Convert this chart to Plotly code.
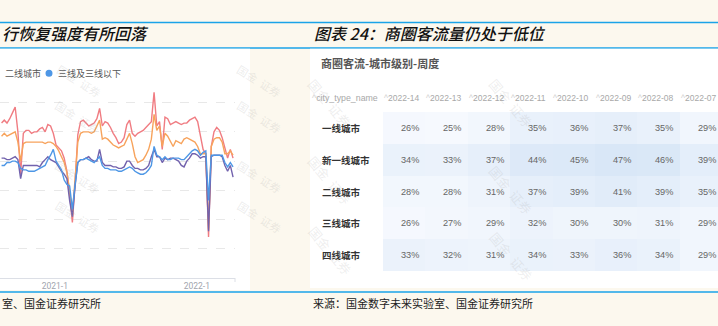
import plotly.graph_objects as go
import pandas as pd

W, H = 718, 326
def PX(x): return x / W
def PY(y): return 1 - y / H

# ---------------- left chart data (weekly index) ----------------
weeks = pd.date_range('2020-08-17', periods=86, freq='7D')
series_names = ['一线城市', '新一线城市', '二线城市', '三线及三线以下']
red = [106,108,106,109,113,117,100,71,99,101,
       101,99,100,100,102,103,100,105,104,99,
       91,89,87,82,73,58,38,65,98,107,
       108,106,104,105,106,109,116,104,107,106,
       103,99,96,92,93,96,105,108,99,97,
       99,100,101,103,105,107,127,104,107,88,
       110,109,105,106,107,106,105,106,106,108,
       109,110,107,97,88,85,28,90,100,103,
       101,96,88,82,88,82]
orange = [97,99,97,98,99,100,93,80,92,93,
          93,93,93,93,93,93,92,93,93,92,
          90,87,83,79,72,60,43,65,93,99,
          100,100,100,99,100,104,108,95,96,95,
          93,91,90,89,90,91,95,99,92,83,
          79,80,81,84,88,95,112,101,104,90,
          99,97,93,90,94,93,92,95,96,95,
          94,93,90,85,85,85,33,90,95,96,
          96,93,85,85,87,84]
purple = [82,82,81,81,82,83,81,68,77,77,
          77,77,77,77,76,79,81,83,81,80,
          79,76,73,71,68,53,42,63,79,81,
          81,82,83,81,80,80,88,79,77,77,
          77,76,76,75,75,76,80,80,77,75,
          75,74,74,75,77,83,88,83,83,79,
          82,81,82,82,81,80,77,76,80,82,
          85,85,84,82,83,83,32,83,84,84,
          84,83,77,73,77,69]
blue = [77,77,79,79,80,80,79,75,74,74,
        73,73,73,74,75,76,77,81,84,88,
        80,77,74,67,64,63,47,64,79,81,
        81,82,81,80,79,81,83,77,75,75,
        74,74,74,73,73,74,75,76,75,73,
        72,71,71,72,74,77,90,84,83,81,
        83,81,81,82,82,82,81,81,83,85,
        87,88,87,84,86,87,53,84,84,84,
        84,84,79,76,79,76]
line_colors = ['#f07c82', '#f7a35c', '#7262ad', '#4e97e6']
x_tickvals = ['2021-01-01', '2022-01-01']
x_ticktext = ['2021-1', '2022-1']

# ---------------- right table data ----------------
week_cols = ['2022-14', '2022-13', '2022-12', '2022-11', '2022-10', '2022-09', '2022-08', '2022-07']
city_rows = ['一线城市', '新一线城市', '二线城市', '三线城市', '四线城市']
table = [
    [26, 25, 28, 35, 36, 37, 35, 29],
    [34, 33, 37, 44, 45, 47, 46, 39],
    [28, 28, 31, 37, 39, 41, 39, 35],
    [26, 27, 29, 32, 30, 30, 31, 29],
    [33, 32, 31, 34, 33, 36, 34, 29],
]

CJK = 'Noto Sans CJK SC, Noto Sans, sans-serif'
NARROW = 'Liberation Sans, Arial, sans-serif'

fig = go.Figure()
for name, ys, col in zip(series_names, [red, orange, purple, blue], line_colors):
    fig.add_trace(go.Scatter(x=weeks, y=ys, mode='lines', name=name,
                             line=dict(color=col, width=1.4), showlegend=False,
                             xaxis='x', yaxis='y'))

fig.add_trace(go.Heatmap(z=table, x=list(range(len(week_cols))), y=list(range(len(city_rows))),
                         xaxis='x2', yaxis='y2', zmin=25, zmax=47, showscale=False,
                         colorscale=[[0, '#f6f9fe'], [1, '#d9e7f7']], hoverinfo='skip'))

shapes = []
blue_line = '#1aa3e8'
for yy in [22.5, 48, 292]:
    shapes.append(dict(type='line', xref='paper', yref='paper', x0=0, x1=1, y0=PY(yy), y1=PY(yy),
                       line=dict(color=blue_line, width=1.6), layer='below'))
shapes.append(dict(type='rect', xref='paper', yref='paper', x0=0, x1=PX(250), y0=PY(290), y1=PY(48.8),
                   fillcolor='white', line=dict(width=0), layer='below'))
shapes.append(dict(type='rect', xref='paper', yref='paper', x0=PX(310), x1=1, y0=PY(288), y1=PY(48.8),
                   fillcolor='white', line=dict(width=0), layer='below'))
# legend dot
shapes.append(dict(type='circle', xref='paper', yref='paper', x0=PX(45.5), x1=PX(52.5), y0=PY(76.8), y1=PY(69.8),
                   fillcolor='#4e97e6', line=dict(width=0)))
# axis end tick
shapes.append(dict(type='line', xref='paper', yref='paper', x0=PX(235), x1=PX(235), y0=PY(278), y1=PY(282),
                   line=dict(color='#dcdfe6', width=1)))

ann = []
# titles
ann.append(dict(text='行恢复强度有所回落', x=0, y=PY(33), xref='paper', yref='paper', xanchor='left',
                yanchor='middle', showarrow=False,
                font=dict(family=CJK, size=16, color='#111', style='italic', weight=500)))
ann.append(dict(text='图表 24：商圈客流量仍处于低位', x=PX(312), y=PY(33), xref='paper', yref='paper',
                xanchor='left', yanchor='middle', showarrow=False,
                font=dict(family=CJK, size=16, color='#111', style='italic', weight=500)))
# sources
ann.append(dict(text='室、国金证券研究所', x=0, y=PY(303), xref='paper', yref='paper', xanchor='left',
                yanchor='middle', showarrow=False, font=dict(family=CJK, size=11, color='#222')))
ann.append(dict(text='来源：国金数字未来实验室、国金证券研究所', x=PX(311), y=PY(303), xref='paper', yref='paper',
                xanchor='left', yanchor='middle', showarrow=False, font=dict(family=CJK, size=11, color='#222')))
# left legend (visible part)
ann.append(dict(text='二线城市', x=PX(3), y=PY(73.5), xref='paper', yref='paper', xanchor='left',
                yanchor='middle', showarrow=False, font=dict(family=CJK, size=9, color='#555')))
ann.append(dict(text='三线及三线以下', x=PX(56), y=PY(73.5), xref='paper', yref='paper', xanchor='left',
                yanchor='middle', showarrow=False, font=dict(family=CJK, size=9, color='#555')))
# table title & header
ann.append(dict(text='<b>商圈客流-城市级别-周度</b>', x=PX(319), y=PY(63), xref='paper', yref='paper',
                xanchor='left', yanchor='middle', showarrow=False, font=dict(family=CJK, size=11, color='#555')))
ann.append(dict(text="<span style='color:#d0d0d0'>^</span>city_type_name", x=PX(310), y=PY(98), xref='paper',
                yref='paper', xanchor='left', yanchor='middle', showarrow=False,
                font=dict(family=NARROW, size=8.8, color='#a8a8a8')))
for k, wk in enumerate(week_cols):
    ann.append(dict(text="<span style='color:#d0d0d0'>^</span>" + wk, x=k + 0.39, y=PY(98), xref='x2',
                    yref='paper', xanchor='right', yanchor='middle', showarrow=False,
                    font=dict(family=NARROW, size=8.5, color='#a8a8a8')))
for r, city in enumerate(city_rows):
    ann.append(dict(text='<b>' + city + '</b>', x=PX(320), y=r, xref='paper', yref='y2', xanchor='left',
                    yanchor='middle', showarrow=False, font=dict(family=CJK, size=9.5, color='#333')))
    for k, v in enumerate(table[r]):
        ann.append(dict(text=f'{v}%', x=k + 0.39, y=r, xref='x2', yref='y2', xanchor='right',
                        yanchor='middle', showarrow=False, font=dict(family=NARROW, size=9.2, color='#666')))
# watermarks
wm = dict(family=CJK, size=11, color='rgba(170,170,170,0.22)')
for (wx, wy) in [(52, 58), (232, 58), (50, 117), (232, 117), (50, 177), (232, 177), (50, 240), (232, 240)]:
    ann.append(dict(text='国金  证券', x=PX(wx), y=PY(wy), xref='paper', yref='paper', showarrow=False,
                    textangle=32, font=wm))
wm2 = dict(family=CJK, size=13, color='rgba(170,170,170,0.2)')
for (wx, wy) in [(330, 72), (540, 72), (330, 180), (540, 190), (330, 282), (540, 288)]:
    ann.append(dict(text='国金  证券', x=PX(wx), y=PY(wy), xref='paper', yref='paper', showarrow=False,
                    textangle=50, font=wm2))

fig.update_layout(
    width=W, height=H, margin=dict(l=0, r=0, t=0, b=0),
    paper_bgcolor='#fcf8ee', plot_bgcolor='rgba(0,0,0,0)',
    showlegend=False, shapes=shapes, annotations=ann,
    xaxis=dict(domain=[0, PX(235)], range=['2020-08-13', '2022-04-09'], type='date',
               tickvals=x_tickvals, ticktext=x_ticktext, showgrid=False, showline=True,
               linecolor='#dcdfe6', linewidth=1, ticks='', zeroline=False,
               tickfont=dict(family='Roboto, sans-serif', size=8.5, color='#a0a4ad'), anchor='y'),
    yaxis=dict(domain=[PY(278), PY(88)], range=[0, 130], dtick=20, showticklabels=False,
               showgrid=True, gridcolor='#e8e8e8', griddash='dash', gridwidth=1, zeroline=False,
               showline=False, anchor='x'),
    xaxis2=dict(domain=[PX(383), 1], range=[-0.5, 7.4], visible=False, anchor='y2'),
    yaxis2=dict(domain=[PY(271), PY(112)], range=[4.5, -0.5], visible=False, anchor='x2'),
)

fig.write_html('out.html')
